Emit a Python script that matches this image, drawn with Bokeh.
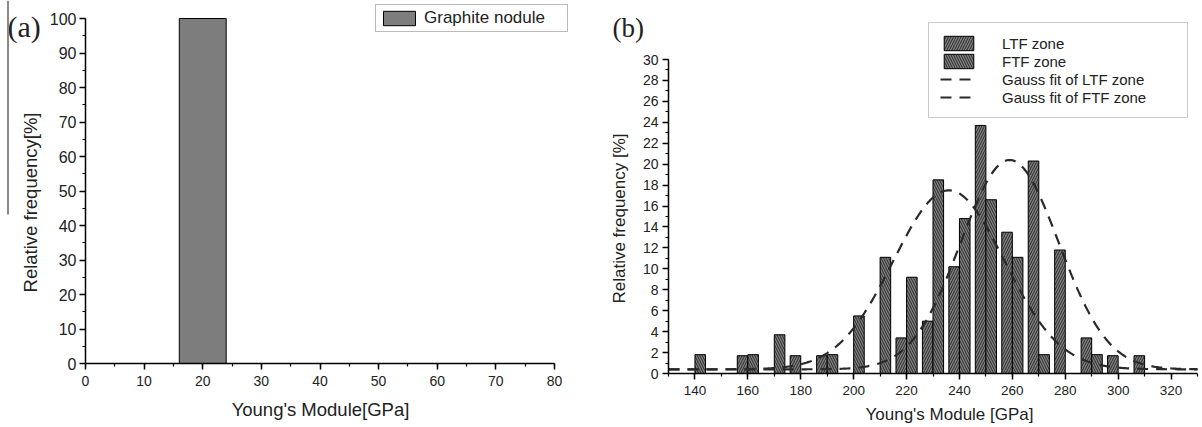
import numpy as np
from bokeh.plotting import figure
from bokeh.layouts import row
from bokeh.models import (Legend, LegendItem, Label, BoxAnnotation, FixedTicker,
                          Range1d)
from bokeh.embed import file_html
from bokeh.resources import INLINE

# ---- (a) graphite nodule: a single histogram class ----
graphite_left = [16]
graphite_right = [24]
graphite_freq = [100]

# ---- (b) matrix: histogram classes (10 GPa) for both zones ----
bin_centers = [140, 150, 160, 170, 180, 190, 200, 210, 220, 230,
               240, 250, 260, 270, 280, 290, 300, 310]
ltf_freq = [0, 0, 1.7, 0, 1.7, 1.7, 0, 0, 3.4, 5.0,
            10.2, 23.7, 13.5, 20.3, 11.8, 3.4, 1.7, 1.7]
ftf_freq = [1.8, 0, 1.8, 3.7, 0, 1.8, 5.5, 11.1, 9.2, 18.5,
            14.8, 16.6, 11.1, 1.8, 0, 1.8, 0, 0]

# Gauss fit parameters: offset, peak height, centre, sigma
ltf_fit = dict(y0=0.4, A=20.0, xc=259.0, s=18.5)
ftf_fit = dict(y0=0.4, A=17.1, xc=236.0, s=21.0)

FONT = "Liberation Sans"
SERIF = "Liberation Serif"
BAR_FILL = "#7d7d7d"
TEXT = "#222222"
FIG_H = 427


def gauss(x, y0, A, xc, s):
    return y0 + A * np.exp(-((x - xc) ** 2) / (2 * s ** 2))


def padded_range(lo, hi, px_lo, px_hi, px_total):
    """Data range whose [lo, hi] sits between pixel px_lo and px_hi of a
    px_total wide canvas (the frame fills the whole canvas)."""
    k = (hi - lo) / (px_hi - px_lo)
    return Range1d(lo - px_lo * k, hi + (px_total - px_hi) * k)


def make_panel(width, xlim, ylim, box, xticks, xminor, yticks, yminor,
               xtick_size, ytick_size):
    left, right, top, bottom = box
    p = figure(width=width, height=FIG_H, min_border=0,
               x_range=padded_range(xlim[0], xlim[1], left, right, width),
               y_range=padded_range(ylim[0], ylim[1], FIG_H - bottom, FIG_H - top, FIG_H),
               output_backend="svg", toolbar_location=None)
    p.grid.visible = False
    p.outline_line_color = None
    p.background_fill_color = "white"
    p.border_fill_color = "white"
    # axes pinned to the data origin of each panel and limited to the data span
    p.xaxis.fixed_location = ylim[0]
    p.yaxis.fixed_location = xlim[0]
    p.xaxis.bounds = xlim
    p.yaxis.bounds = ylim
    p.xaxis.ticker = FixedTicker(ticks=xticks, minor_ticks=xminor)
    p.yaxis.ticker = FixedTicker(ticks=yticks, minor_ticks=yminor)
    for ax in (p.xaxis[0], p.yaxis[0]):
        ax.axis_line_color = "black"
        ax.axis_line_width = 1.5
        ax.major_tick_line_color = "black"
        ax.minor_tick_line_color = "black"
        ax.major_tick_line_width = 1.5
        ax.minor_tick_line_width = 1.2
        ax.major_tick_in = 0
        ax.major_tick_out = 6
        ax.minor_tick_in = 0
        ax.minor_tick_out = 3
        ax.major_label_text_font = FONT
        ax.major_label_text_color = TEXT
    p.xaxis.major_label_text_font_size = xtick_size
    p.yaxis.major_label_text_font_size = ytick_size
    p.xaxis.major_label_standoff = 6
    p.yaxis.major_label_standoff = 3
    return p


def title_text(p, x, y, text, size, angle=0.0, font=FONT, align="center",
               baseline="middle"):
    p.add_layout(Label(x=x, y=FIG_H - y, x_units="screen", y_units="screen",
                       text=text, angle=angle, text_font=font,
                       text_font_size=size, text_color=TEXT,
                       text_align=align, text_baseline=baseline))


# ================= panel (a) =================
pa = make_panel(600, (0, 80), (0, 100), (85, 554, 18, 363),
                list(range(0, 81, 10)), list(range(0, 81, 5)),
                list(range(0, 101, 10)), list(range(0, 101, 5)),
                "14px", "16px")

ga = pa.quad(left=graphite_left, right=graphite_right, bottom=0, top=graphite_freq,
             fill_color=BAR_FILL, line_color="black", line_width=1)

title_text(pa, 320, 409, "Young's Module[GPa]", "18.5px")
title_text(pa, 30, 202, "Relative frequency[%]", "18.5px", angle=np.pi / 2)
title_text(pa, 7, 9, "(a)", "30px", font=SERIF, align="left", baseline="top")

leg_a = Legend(items=[LegendItem(label="Graphite nodule", renderers=[ga])],
               location=(375, FIG_H - 32), orientation="vertical",
               glyph_width=40, glyph_height=18, label_height=18, label_width=140,
               label_standoff=5, padding=3, spacing=0, margin=0,
               label_text_font=FONT, label_text_font_size="17px",
               label_text_color=TEXT,
               border_line_color="#777777", border_line_width=1,
               background_fill_alpha=1)
pa.add_layout(leg_a)

# thin grey rule along the left edge of panel (a)
pa.add_layout(BoxAnnotation(left=6.5, right=8.5, bottom=FIG_H - 214, top=FIG_H,
                            left_units="screen", right_units="screen",
                            bottom_units="screen", top_units="screen",
                            fill_color="#8a8a8a", fill_alpha=1, line_color=None))

# ================= panel (b) =================
pb = make_panel(602, (130, 330), (0, 30), (68, 597, 59, 373),
                list(range(140, 321, 20)), list(range(130, 331, 10)),
                list(range(0, 31, 2)), list(range(0, 31, 1)),
                "13.5px", "14px")
pb.yaxis.major_label_standoff = 4

half = 4  # width of each zone's bar inside a 10 GPa class
centers = np.array(bin_centers, dtype=float)
hatch_common = dict(fill_color=BAR_FILL, line_color="black", line_width=1,
                    hatch_color="#2e2e2e", hatch_scale=5, hatch_weight=1)
r_ltf = pb.quad(left=centers - half, right=centers, bottom=0, top=ltf_freq,
                hatch_pattern="/", **hatch_common)
r_ftf = pb.quad(left=centers, right=centers + half, bottom=0, top=ftf_freq,
                hatch_pattern="\\", **hatch_common)

xs = np.linspace(130, 330, 401)
dash_style = dict(line_color="#2a2a2a", line_width=2.2, line_dash="11 8")
r_gl = pb.line(xs, gauss(xs, **ltf_fit), **dash_style)
r_gf = pb.line(xs, gauss(xs, **ftf_fit), **dash_style)

title_text(pb, 349, 414, "Young's Module [GPa]", "17px")
title_text(pb, 19, 218, "Relative frequency [%]", "17px", angle=np.pi / 2)
title_text(pb, 12, 12, "(b)", "27px", font=SERIF, align="left", baseline="top")

leg_b = Legend(items=[LegendItem(label="LTF zone", renderers=[r_ltf]),
                      LegendItem(label="FTF zone", renderers=[r_ftf]),
                      LegendItem(label="Gauss fit of LTF zone", renderers=[r_gl]),
                      LegendItem(label="Gauss fit of FTF zone", renderers=[r_gf])],
               location=(328, FIG_H - 118), orientation="vertical",
               glyph_width=37, glyph_height=18, label_height=18, label_width=174,
               label_standoff=25, padding=11, spacing=0, margin=0,
               label_text_font=FONT, label_text_font_size="15px",
               label_text_color=TEXT,
               border_line_color="#999999", border_line_width=1.5,
               background_fill_alpha=1)
pb.add_layout(leg_b)

layout = row(pa, pb, spacing=0)
open("out.html", "w").write(file_html(layout, INLINE))
